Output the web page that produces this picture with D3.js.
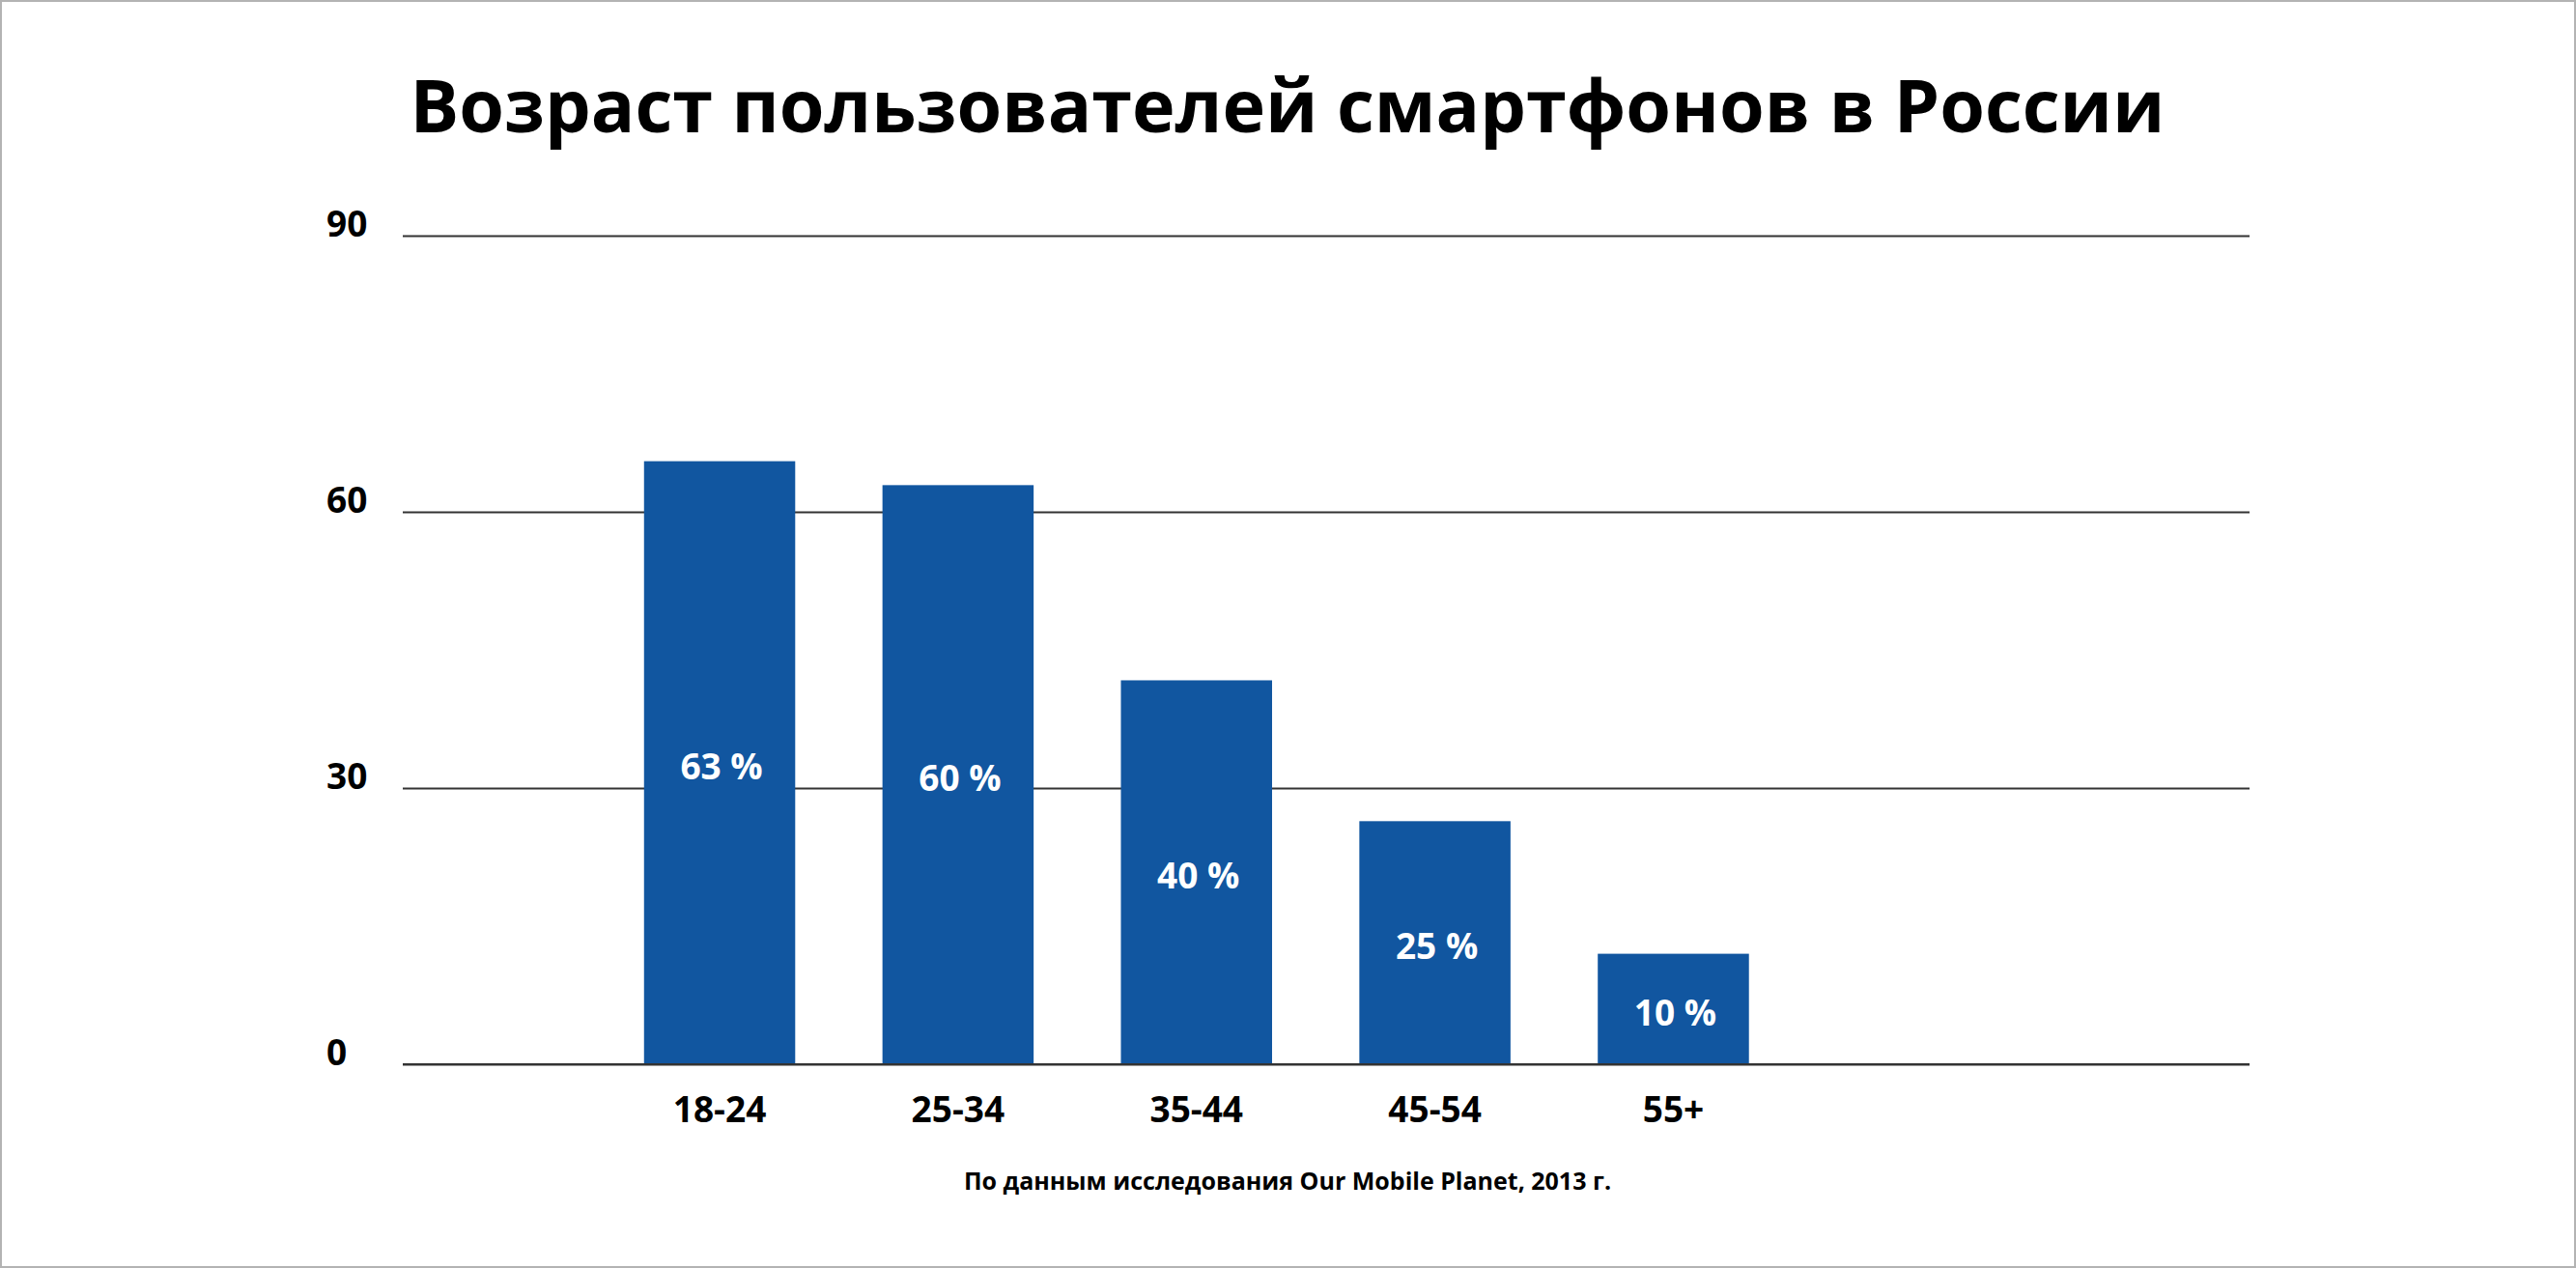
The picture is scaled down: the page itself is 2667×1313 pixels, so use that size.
<!DOCTYPE html>
<html>
<head>
<meta charset="utf-8">
<script src="https://cdn.jsdelivr.net/npm/d3@7"></script>
<style>
  html, body { margin: 0; padding: 0; background: #fff; }
  svg { display: block; font-family: "Open Sans", "Noto Sans", sans-serif; }
</style>
</head>
<body>
<svg id="chart" width="2667" height="1313"></svg>
<script>
const categories = ["18-24", "25-34", "35-44", "45-54", "55+"];
const values = [65.5, 62.9, 41.7, 26.4, 12.0];
const valueLabels = ["63 %", "60 %", "40 %", "25 %", "10 %"];
const yTicks = [0, 30, 60, 90];
const titleText = "Возраст пользователей смартфонов в России";
const sourceText = "По данным исследования Our Mobile Planet, 2013 г.";

const W = 2667, H = 1313;
const svg = d3.select("#chart");

svg.append("rect").attr("x", 1).attr("y", 1).attr("width", W - 2).attr("height", H - 2)
  .attr("fill", "#fff").attr("stroke", "#b3b3b3").attr("stroke-width", 2);

const gridLeft = 417, gridRight = 2329;
const y = d3.scaleLinear().domain([0, 90]).range([1102, 244]);
const x = d3.scaleBand().domain(categories).range([621.6, 1855.9])
  .paddingInner(0.366).paddingOuter(0.183);

// title
svg.append("text").attr("x", 1333).attr("y", 137)
  .attr("text-anchor", "middle").attr("font-size", 75.5).attr("font-weight", 700)
  .attr("fill", "#000").text(titleText);

// y axis with gridlines
const yAxis = svg.append("g").attr("transform", `translate(${gridLeft},0)`)
  .call(d3.axisLeft(y).tickValues(yTicks).tickSize(-(gridRight - gridLeft)).tickFormat(d3.format("d")));
yAxis.select(".domain").remove();
yAxis.selectAll(".tick line").attr("stroke", "#333").attr("stroke-width", 2);
yAxis.selectAll(".tick text").attr("x", 338 - gridLeft).attr("dy", "0.02em")
  .attr("text-anchor", "start").attr("font-size", 37).attr("font-weight", 700)
  .attr("fill", "#000").attr("font-family", "'Open Sans', sans-serif");

// bars
svg.append("g").selectAll("rect").data(values).join("rect")
  .attr("x", (d, i) => x(categories[i]))
  .attr("width", x.bandwidth())
  .attr("y", d => y(d))
  .attr("height", d => y(0) - y(d))
  .attr("fill", "#1156a0");

// redraw baseline over bars
svg.append("line").attr("x1", gridLeft).attr("x2", gridRight)
  .attr("y1", y(0)).attr("y2", y(0)).attr("stroke", "#333").attr("stroke-width", 2);

// value labels
svg.append("g").selectAll("text").data(values).join("text")
  .attr("x", (d, i) => x(categories[i]) + x.bandwidth() / 2 + 2)
  .attr("y", d => (y(d) + y(0)) / 2 + 17)
  .attr("text-anchor", "middle").attr("font-size", 37).attr("font-weight", 700)
  .attr("fill", "#fff").text((d, i) => valueLabels[i]);

// x axis labels
const xAxis = svg.append("g").attr("transform", `translate(0,${y(0)})`)
  .call(d3.axisBottom(x).tickSize(0));
xAxis.select(".domain").remove();
xAxis.selectAll(".tick text").attr("y", 60).attr("dy", 0)
  .attr("font-size", 37).attr("font-weight", 700).attr("fill", "#000")
  .attr("font-family", "'Open Sans', sans-serif");

// source
svg.append("text").attr("x", 1333).attr("y", 1232)
  .attr("text-anchor", "middle").attr("font-size", 25).attr("font-weight", 700)
  .attr("fill", "#000").text(sourceText);
</script>
</body>
</html>
